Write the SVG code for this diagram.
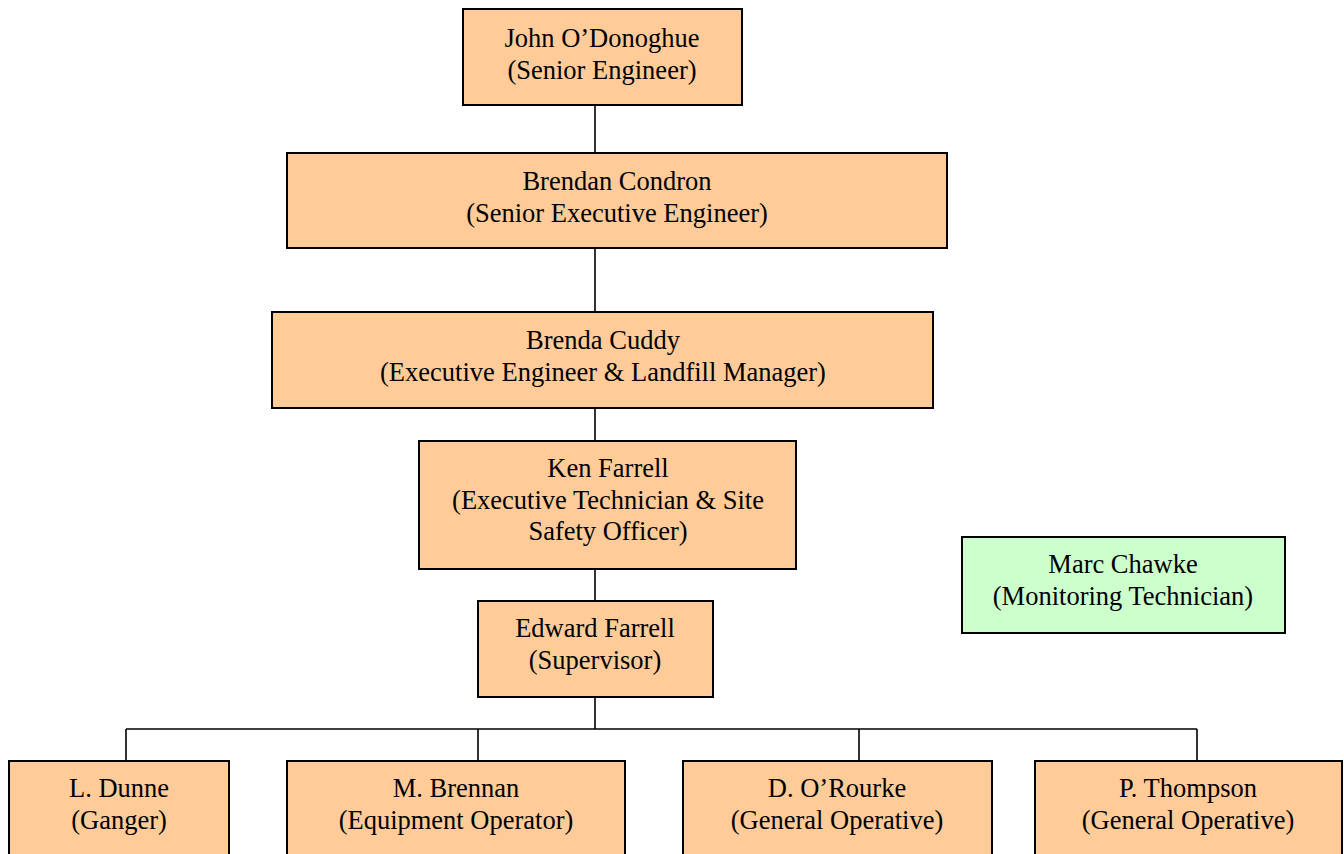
<svg xmlns="http://www.w3.org/2000/svg" width="1344" height="854" viewBox="0 0 1344 854">
<style>
.box{fill:#FFCC99;stroke:#000;stroke-width:2}
.grn{fill:#CCFFCC;stroke:#000;stroke-width:2}
.t{font-family:"Liberation Serif","Times New Roman",serif;font-size:26.5px;fill:#000;text-anchor:middle}
.c{stroke:#000;stroke-width:1.6;fill:none}
</style>
<rect width="1344" height="854" fill="#fff"/>
<g id="connectors">
<path class="c" d="M595 105V153M595 248V312M595 408V441M595 569V601M595 697V729M126 729H1197M126 729V761M478 729V761M859 729V761M1197 729V761"/>
</g>
<g id="n1"><rect class="box" x="463" y="9" width="279" height="96"/><text class="t" x="602" y="47">John O’Donoghue</text><text class="t" x="602" y="79">(Senior Engineer)</text></g>
<g id="n2"><rect class="box" x="287" y="153" width="660" height="95"/><text class="t" x="617" y="190">Brendan Condron</text><text class="t" x="617" y="222">(Senior Executive Engineer)</text></g>
<g id="n3"><rect class="box" x="272" y="312" width="661" height="96"/><text class="t" x="603" y="349">Brenda Cuddy</text><text class="t" x="603" y="381">(Executive Engineer &amp; Landfill Manager)</text></g>
<g id="n4"><rect class="box" x="419" y="441" width="377" height="128"/><text class="t" x="608" y="477">Ken Farrell</text><text class="t" x="608" y="509">(Executive Technician &amp; Site</text><text class="t" x="608" y="540">Safety Officer)</text></g>
<g id="n5"><rect class="box" x="478" y="601" width="235" height="96"/><text class="t" x="595" y="637">Edward Farrell</text><text class="t" x="595" y="669">(Supervisor)</text></g>
<g id="n6"><rect class="grn" x="962" y="537" width="323" height="96"/><text class="t" x="1123" y="573">Marc Chawke</text><text class="t" x="1123" y="605">(Monitoring Technician)</text></g>
<g id="n7"><rect class="box" x="9" y="761" width="220" height="100"/><text class="t" x="119" y="797">L. Dunne</text><text class="t" x="119" y="829">(Ganger)</text></g>
<g id="n8"><rect class="box" x="287" y="761" width="338" height="100"/><text class="t" x="456" y="797">M. Brennan</text><text class="t" x="456" y="829">(Equipment Operator)</text></g>
<g id="n9"><rect class="box" x="683" y="761" width="309" height="100"/><text class="t" x="837" y="797">D. O’Rourke</text><text class="t" x="837" y="829">(General Operative)</text></g>
<g id="n10"><rect class="box" x="1035" y="761" width="307" height="100"/><text class="t" x="1188" y="797">P. Thompson</text><text class="t" x="1188" y="829">(General Operative)</text></g>
</svg>
